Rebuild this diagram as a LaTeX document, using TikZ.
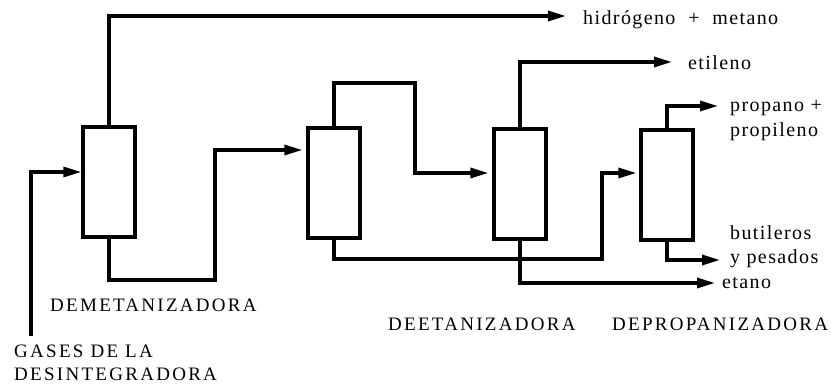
\documentclass[tikz,border=0pt]{standalone}
\usepackage{fontspec}
\setmainfont{Liberation Serif}
\newfontfamily\capsfont[LetterSpace=12]{Liberation Serif}
\newfontfamily\streamfont[LetterSpace=7]{Liberation Serif}
\usetikzlibrary{arrows.meta,positioning}
\tikzset{
  colbox/.style={draw=black, line width=3.2pt, minimum width=52pt,
    minimum height=110pt, inner sep=0pt},
  flowline/.style={line width=3.2pt, draw=black},
  flowarrow/.style={flowline, -{Triangle[length=18pt,width=10pt]}},
  streamlbl/.style={font=\fontsize{20}{24}\streamfont, inner sep=0pt, align=left},
  unitlbl/.style={font=\fontsize{19}{23}\capsfont, inner sep=0pt, align=left}
}

\begin{document}
\begin{tikzpicture}[x=1pt, y=-1pt]
  \useasboundingbox (0,0) rectangle (831,385);
  % columns
  \node[colbox] (demet) at (109,182) {};
  \node[colbox] (col2) at (334,183) {};
  \node[colbox] (deet) at (520,184) {};
  \node[colbox] (deprop) at (667,185) {};
  % free stream ends
  \coordinate (feed) at (31,336);
  \coordinate (h2tip) at (566,16);
  \coordinate (etiltip) at (672,62);
  \coordinate (proptip) at (718,106);
  \coordinate (buttip) at (720,260);
  \coordinate (etantip) at (715,283);
  % streams
  \draw[flowarrow] (feed) |- ([yshift=10pt]demet.west);
  \draw[flowarrow] (demet.north) |- (h2tip);
  \draw[flowarrow, shorten >=4pt] (demet.south) |- (215,280) |- ([yshift=33pt]col2.west);
  \draw[flowarrow, shorten >=4pt] (col2.north) |- (415,83) |- ([yshift=11pt]deet.west);
  \draw[flowarrow, shorten >=3pt] (col2.south) |- (602,259) |- ([yshift=12pt]deprop.west);
  \draw[flowarrow] (deet.north) |- (etiltip);
  \draw[flowarrow] (deet.south) |- (etantip);
  \draw[flowarrow] (deprop.north) |- (proptip);
  \draw[flowarrow] (deprop.south) |- (buttip);
  % labels (base = last line)
  \node[streamlbl, anchor=base west] (h2lbl) at (583,25) {hidrógeno\ \ +\ \ metano};
  \node[streamlbl, anchor=base west] (etillbl) at (688,70) {etileno};
  \node[streamlbl, anchor=base west, font=\fontsize{20}{25}\streamfont] (proplbl) at (730,137) {propano +\\propileno};
  \node[streamlbl, anchor=base west] (butlbl) at (730,263) {butileros\\y pesados};
  \node[streamlbl, anchor=base west] (etanlbl) at (722,288) {etano};
  \node[unitlbl, anchor=base west] (demetlbl) at (50,312) {DEMETANIZADORA};
  \node[unitlbl, anchor=base west] (deetlbl) at (388,330) {DEETANIZADORA};
  \node[unitlbl, anchor=base west] (deproplbl) at (612,330) {DEPROPANIZADORA};
  \node[unitlbl, anchor=base west] (feedlbl) at (14,380) {GASES DE LA\\DESINTEGRADORA};
\end{tikzpicture}
\end{document}
